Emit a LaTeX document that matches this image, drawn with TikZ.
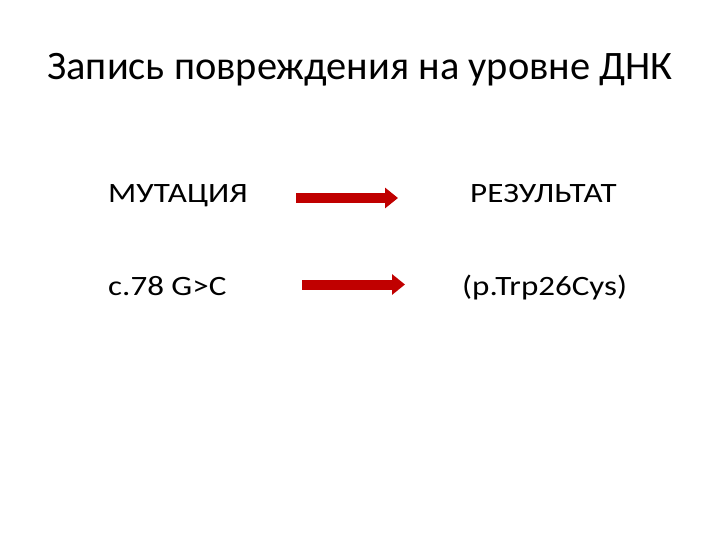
\documentclass[tikz,border=0pt]{standalone}
\usepackage{fontspec}
\setmainfont{Carlito}
\usetikzlibrary{arrows.meta}
\definecolor{arrred}{HTML}{C00000}
\tikzset{
  lbl/.style={inner sep=0pt, font=\fontsize{28}{32}\selectfont, anchor=base west},
  redarrow/.style={draw=arrred, line width=10pt, -{Triangle[length=13pt,width=20pt]}}
}
\newcommand{\wide}[1]{\scalebox{1.18}[1]{#1}}
\begin{document}
\begin{tikzpicture}[x=1pt,y=-1pt]
\useasboundingbox (0,0) rectangle (720,540);
\node[inner sep=0pt, font=\fontsize{40.4}{46}\selectfont] (title) at (360,70) {Запись повреждения на уровне ДНК};
\node[lbl] (mut) at (108,202.5) {\wide{МУТАЦИЯ}};
\node[lbl] (res) at (470,202.5) {\wide{РЕЗУЛЬТАТ}};
\node[lbl] (cdna) at (108,295) {\wide{c.78 G>C}};
\node[lbl] (prot) at (462,295) {\wide{(p.Trp26Cys)}};
\coordinate (a1s) at (296,198);
\coordinate (a1e) at (398,198);
\coordinate (a2s) at (302,284.5);
\coordinate (a2e) at (405,284.5);
\draw[redarrow] (a1s) -- (a1e);
\draw[redarrow] (a2s) -- (a2e);
\end{tikzpicture}
\end{document}
